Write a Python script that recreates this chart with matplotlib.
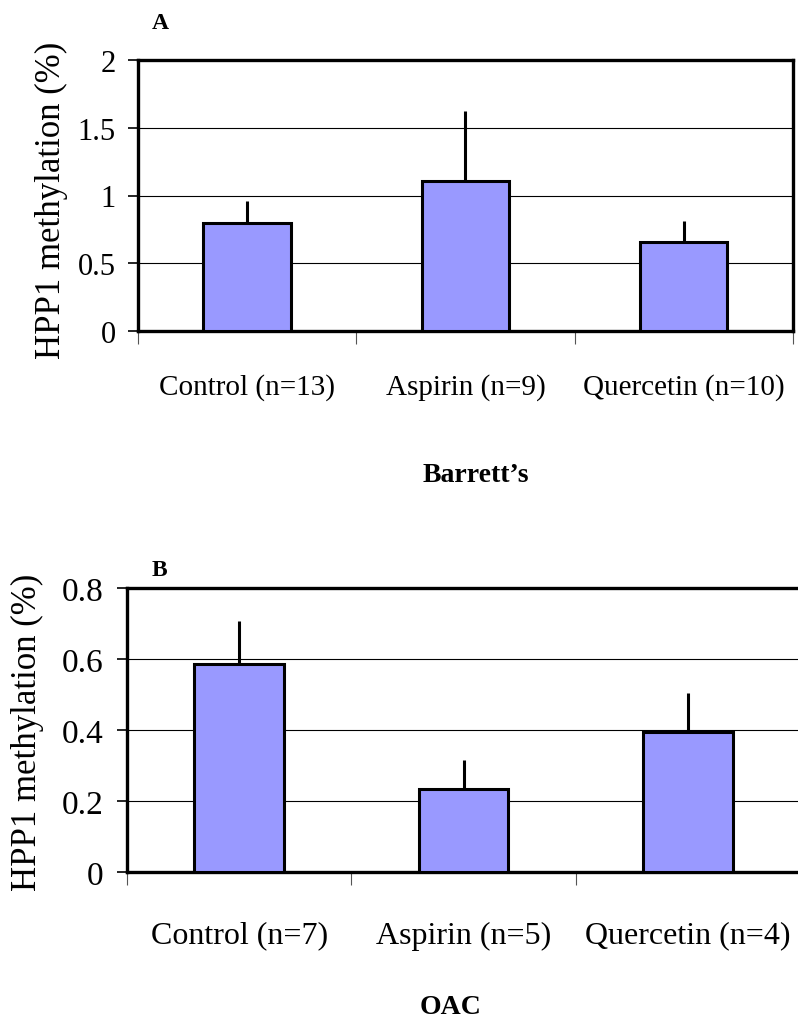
import numpy as np
import matplotlib
matplotlib.use('Agg')
import matplotlib.pyplot as plt

# Data
groups_a = ['Control (n=13)', 'Aspirin (n=9)', 'Quercetin (n=10)']
means_a = [0.80, 1.105, 0.66]
errs_a = [0.16, 0.515, 0.15]

groups_b = ['Control (n=7)', 'Aspirin (n=5)', 'Quercetin (n=4)']
means_b = [0.587, 0.235, 0.393]
errs_b = [0.12, 0.08, 0.11]

yticks_a = [0, 0.5, 1, 1.5, 2]
yticklabels_a = ['0', '0.5', '1', '1.5', '2']
yticks_b = [0, 0.2, 0.4, 0.6, 0.8]
yticklabels_b = ['0', '0.2', '0.4', '0.6', '0.8']

plt.rcParams['font.family'] = ['Liberation Serif', 'DejaVu Serif']

W, H = 798, 1020
fig = plt.figure(figsize=(W / 100, H / 100), dpi=100)


def px_axes(left, top, right, bottom):
    return fig.add_axes([left / W, 1 - bottom / H, (right - left) / W, (bottom - top) / H])


def draw_panel(ax, groups, means, errs, yticks, yticklabels, ymax, xfs, yfs, xpad, ypad):
    x = np.arange(len(groups))
    ax.bar(x, means, width=0.4, color='#9999ff', edgecolor='black', linewidth=2.2, zorder=3)
    ax.errorbar(x, means, yerr=[np.zeros(len(errs)), errs], fmt='none',
                ecolor='black', elinewidth=2.2, capsize=0, zorder=2)
    ax.set_xlim(-0.5, len(groups) - 0.5)
    ax.set_ylim(0, ymax)
    ax.set_yticks(yticks)
    ax.set_yticklabels(yticklabels, fontsize=yfs)
    ax.set_xticks(x)
    ax.set_xticklabels(groups, fontsize=xfs)
    ax.set_xticks(np.arange(-0.5, len(groups)), minor=True)
    ax.tick_params(axis='x', which='major', length=0, pad=xpad)
    ax.tick_params(axis='x', which='minor', length=9, width=0.8, color='#555555')
    ax.tick_params(axis='y', length=7, width=1.2, pad=ypad)
    ax.yaxis.grid(True, color='black', linewidth=0.8)
    ax.set_axisbelow(True)
    for s in ax.spines.values():
        s.set_linewidth(2.4)


# Panel A - Barrett's
ax1 = px_axes(138, 61, 793, 332)
draw_panel(ax1, groups_a, means_a, errs_a, yticks_a, yticklabels_a, 2,
           xfs=21, yfs=22, xpad=30, ypad=9)
fig.text(152 / W, 1 - 29 / H, 'A', fontsize=17, fontweight='bold', va='baseline')
fig.text(51 / W, 1 - 200 / H, 'HPP1 methylation (%)', rotation=90, fontsize=25,
         ha='center', va='center')
fig.text(476 / W, 1 - 482 / H, 'Barrett\u2019s', fontsize=20, fontweight='bold',
         ha='center', va='baseline')

# Panel B - OAC (right edge runs past the image)
ax2 = px_axes(127, 589, 800, 873)
draw_panel(ax2, groups_b, means_b, errs_b, yticks_b, yticklabels_b, 0.8,
           xfs=23, yfs=24, xpad=35, ypad=10)
fig.text(152 / W, 1 - 576 / H, 'B', fontsize=17, fontweight='bold', va='baseline')
fig.text(27 / W, 1 - 732 / H, 'HPP1 methylation (%)', rotation=90, fontsize=25,
         ha='center', va='center')
fig.text(451 / W, 1 - 1014 / H, 'OAC', fontsize=20, fontweight='bold',
         ha='center', va='baseline')

fig.savefig('out.png', dpi=100)
